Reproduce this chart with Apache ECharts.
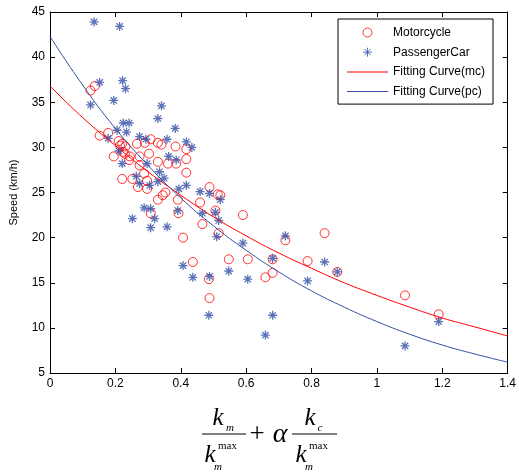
<!DOCTYPE html>
<html>
<head>
<meta charset="utf-8">
<script src="https://cdn.jsdelivr.net/npm/echarts@6/dist/echarts.min.js"></script>
<style>html,body{margin:0;padding:0;background:#fff;}#c{width:519px;height:472px;}</style>
</head>
<body>
<div id="c"></div>
<script>
// Motorcycle observations [x, speed]
const motorcyclePoints = [
  [0.124,36.3],[0.137,36.8],[0.152,31.3],[0.178,31.6],[0.195,29.0],[0.21,30.7],[0.221,30.4],[0.214,30.2],
  [0.231,30.1],[0.224,29.5],[0.229,29.3],[0.244,29.0],[0.242,28.6],[0.221,26.5],[0.252,26.5],[0.266,30.4],
  [0.29,30.5],[0.308,30.9],[0.33,30.5],[0.341,30.3],[0.384,30.1],[0.417,29.8],[0.274,29.0],[0.303,29.3],
  [0.274,28.0],[0.33,28.4],[0.361,28.2],[0.386,28.2],[0.417,28.7],[0.417,27.2],[0.288,27.1],[0.297,26.3],
  [0.269,25.6],[0.297,25.4],[0.353,25.0],[0.345,24.7],[0.33,24.2],[0.391,24.2],[0.308,22.7],[0.393,22.7],
  [0.407,20.0],[0.459,23.9],[0.466,21.5],[0.488,25.6],[0.513,24.8],[0.521,24.7],[0.506,23.0],[0.516,20.5],
  [0.437,17.3],[0.486,15.4],[0.488,13.3],[0.59,22.5],[0.547,17.6],[0.605,17.6],[0.681,17.6],[0.659,15.6],
  [0.681,16.1],[0.72,19.7],[0.788,17.4],[0.84,20.5],[0.879,16.2],[1.086,13.6],[1.189,11.5]
];
// Passenger car observations [x, speed]
const passengerCarPoints = [
  [0.135,43.9],[0.213,43.4],[0.152,37.2],[0.222,37.4],[0.231,36.5],[0.195,35.2],[0.124,34.7],[0.341,34.6],
  [0.33,33.2],[0.383,32.1],[0.224,32.7],[0.242,32.7],[0.205,31.9],[0.234,31.7],[0.178,31.0],[0.274,31.2],
  [0.293,30.9],[0.358,30.9],[0.417,30.6],[0.434,30.0],[0.211,29.6],[0.363,29.0],[0.386,28.6],[0.221,28.2],
  [0.297,28.2],[0.335,27.3],[0.264,26.8],[0.274,26.0],[0.305,25.8],[0.33,26.2],[0.349,26.6],[0.394,25.4],
  [0.417,25.8],[0.459,25.1],[0.488,24.9],[0.521,24.2],[0.288,23.3],[0.308,23.2],[0.252,22.1],[0.32,22.1],
  [0.308,21.1],[0.358,21.2],[0.391,23.0],[0.466,22.7],[0.506,22.8],[0.516,21.9],[0.51,20.1],[0.59,19.4],
  [0.72,20.2],[0.407,16.9],[0.437,15.6],[0.488,15.7],[0.547,16.3],[0.605,15.4],[0.681,17.7],[0.788,15.2],
  [0.84,17.3],[0.879,16.2],[0.486,11.4],[0.681,11.4],[0.659,9.2],[1.086,8.0],[1.189,10.7]
];
// Fitting curves read at these x positions
const curveX = [0,0.1,0.2,0.3,0.4,0.5,0.6,0.7,0.8,0.9,1.0,1.1,1.2,1.3,1.4];
const fitMc  = [36.8,33.3,30.2,27.3,24.7,22.3,20.2,18.3,16.6,15.0,13.6,12.3,11.1,10.1,9.1];
const fitPc  = [42.3,36.9,32.1,28.0,24.4,21.3,18.6,16.2,14.1,12.3,10.7,9.3,8.1,7.1,6.2];

const seriesNames = ['Motorcycle','PassengerCar','Fitting Curve(mc)','Fitting Curve(pc)'];
const xTicks = {min:0, max:1.4, interval:0.2};
const yTicks = {min:5, max:45, interval:5};

const RED = '#ff0000';
const BLUE = '#3550a8';
const starPath = 'path://M0,-10 L0,10 M-10,0 L10,0 M-7,-7 L7,7 M-7,7 L7,-7';
const lineIcon = 'path://M0,0 L41,0 L41,1 L0,1 Z';
const FONT = 'Liberation Sans, Arial, sans-serif';
const SERIF = 'Liberation Serif, Times New Roman, serif';

const zip = (xs, ys) => xs.map((x,i)=>[x, ys[i]]);

const chart = echarts.init(document.getElementById('c'), null, {renderer:'canvas'});

const axisCommon = {
  axisLine:{show:true, onZero:false, lineStyle:{color:'#000', width:1}},
  axisTick:{show:true, inside:true, length:5, lineStyle:{color:'#000'}},
  splitLine:{show:false}
};

const txt = (x, y, text, font, align) => ({
  type:'text', x:x, y:y, silent:true,
  style:{text:text, font:font, fill:'#000', align:align||'center', verticalAlign:'middle'}
});

chart.setOption({
  animation:false,
  backgroundColor:'#fff',
  grid:{left:50, right:10, top:12, bottom:99, containLabel:false},
  xAxis:[
    Object.assign({type:'value', position:'bottom', min:xTicks.min, max:xTicks.max, interval:xTicks.interval,
      axisLabel:{color:'#000', fontSize:12, fontFamily:FONT, margin:5}}, axisCommon),
    Object.assign({type:'value', position:'top', min:xTicks.min, max:xTicks.max, interval:xTicks.interval,
      axisLabel:{show:false}}, axisCommon)
  ],
  yAxis:[
    Object.assign({type:'value', position:'left', min:yTicks.min, max:yTicks.max, interval:yTicks.interval,
      name:'Speed (km/h)', nameLocation:'middle', nameGap:31,
      nameTextStyle:{color:'#000', fontSize:11, fontFamily:FONT},
      axisLabel:{color:'#000', fontSize:12, fontFamily:FONT, margin:5}}, axisCommon),
    Object.assign({type:'value', position:'right', min:yTicks.min, max:yTicks.max, interval:yTicks.interval,
      axisLabel:{show:false}}, axisCommon)
  ],
  legend:{
    orient:'vertical', left:338, top:19,
    backgroundColor:'#fff', borderColor:'#000', borderWidth:1,
    padding:[7,8,6,9], itemGap:6.7, itemWidth:41, itemHeight:9,
    textStyle:{color:'#000', fontSize:12, fontFamily:FONT, lineHeight:13},
    data:[
      {name:seriesNames[0], itemStyle:{color:'rgba(255,255,255,0)', borderColor:RED, borderWidth:1}},
      {name:seriesNames[1], itemStyle:{color:BLUE, borderColor:BLUE, borderWidth:1}},
      {name:seriesNames[2], icon:lineIcon, itemStyle:{color:RED, borderWidth:0}},
      {name:seriesNames[3], icon:lineIcon, itemStyle:{color:BLUE, borderWidth:0}}
    ]
  },
  series:[
    {name:seriesNames[0], type:'scatter', data:motorcyclePoints, symbol:'circle', symbolSize:9,
      itemStyle:{color:'rgba(255,255,255,0)', borderColor:RED, borderWidth:1}, z:3},
    {name:seriesNames[1], type:'scatter', data:passengerCarPoints, symbol:starPath, symbolSize:9,
      itemStyle:{color:BLUE, borderColor:BLUE, borderWidth:1.3}, z:3},
    {name:seriesNames[2], type:'line', data:zip(curveX, fitMc), smooth:true, symbol:'none',
      lineStyle:{color:RED, width:1}, itemStyle:{color:RED}, z:4},
    {name:seriesNames[3], type:'line', data:zip(curveX, fitPc), smooth:true, symbol:'none',
      lineStyle:{color:BLUE, width:1}, itemStyle:{color:BLUE}, z:4}
  ],
  graphic:[
    // first fraction  k_m / k_m^max
    txt(218, 418, 'k', 'italic 25px '+SERIF),
    txt(230, 428, 'm', 'italic 11px '+SERIF),
    {type:'line', silent:true, shape:{x1:202, y1:434, x2:246, y2:434}, style:{stroke:'#000', lineWidth:1}},
    txt(210, 455, 'k', 'italic 25px '+SERIF),
    txt(218, 446, 'max', '11px '+SERIF, 'left'),
    txt(218, 467, 'm', 'italic 11px '+SERIF),
    // plus and alpha
    txt(257, 435, '+', '27px '+SERIF),
    txt(280, 435, 'α', 'italic 28px '+SERIF),
    // second fraction  k_c / k_m^max
    txt(310, 418, 'k', 'italic 25px '+SERIF),
    txt(320, 428, 'c', 'italic 11px '+SERIF),
    {type:'line', silent:true, shape:{x1:292, y1:434, x2:337, y2:434}, style:{stroke:'#000', lineWidth:1}},
    txt(301, 455, 'k', 'italic 25px '+SERIF),
    txt(309, 446, 'max', '11px '+SERIF, 'left'),
    txt(309, 467, 'm', 'italic 11px '+SERIF)
  ]
});
</script>
</body>
</html>
